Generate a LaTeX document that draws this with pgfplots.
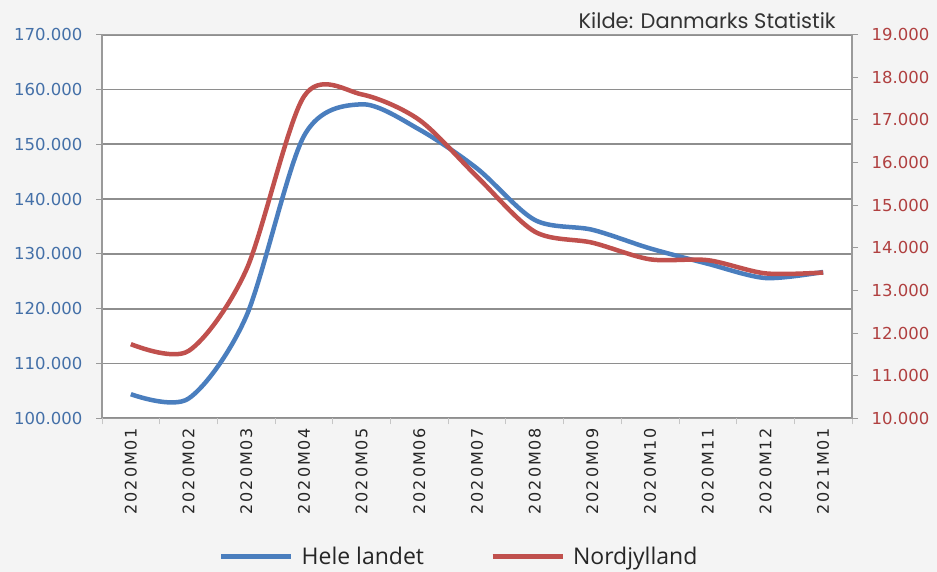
\documentclass[border=0pt]{standalone}
\usepackage{pgfplots}
\pgfplotsset{compat=1.18}
\usepackage{fontspec}
\setmainfont{DejaVu Sans}
\newfontfamily\kfont{Poppins}
\newfontfamily\lfont{Open Sans}
\newfontfamily\xfont[LetterSpace=12]{DejaVu Sans}
\definecolor{bgc}{HTML}{F4F4F4}
\definecolor{blueline}{HTML}{4A7EBE}
\definecolor{redline}{HTML}{C0504D}
\definecolor{bluetxt}{HTML}{4470A8}
\definecolor{redtxt}{HTML}{B04040}
\definecolor{gridc}{HTML}{8E8E8E}
\definecolor{axc}{HTML}{9A9A9A}
\newcommand{\tf}{\fontsize{16.5bp}{18bp}\selectfont}
\begin{document}
\begin{tikzpicture}
\path[use as bounding box, clip] (0,0) rectangle (937bp,572bp);
\fill[bgc] (0,0) rectangle (937bp,572bp);
\begin{axis}[
  at={(102bp,153.7bp)}, anchor=south west, scale only axis,
  width=750bp, height=383.6bp,
  xmin=-0.5, xmax=12.5, ymin=100, ymax=170,
  axis background/.style={fill=white},
  axis line style={draw=axc, line width=1.3bp},
  xtick={0,...,12},
  xticklabels={2020M01,2020M02,2020M03,2020M04,2020M05,2020M06,2020M07,2020M08,2020M09,2020M10,2020M11,2020M12,2021M01},
  xticklabel style={rotate=90, anchor=east, font=\xfont\fontsize{16bp}{18bp}\selectfont, text=black!85},
  x tick style={draw=none},
  extra x ticks={-0.5,0.5,...,12.5},
  extra x tick labels={},
  extra x tick style={grid=none, x tick style={draw=gray!45, line width=0.8bp}, major tick length=6bp},
  xtick pos=bottom,
  ytick={100,110,...,170},
  yticklabels={100.000,110.000,120.000,130.000,140.000,150.000,160.000,170.000},
  yticklabel style={font=\tf, text=bluetxt, xshift=-10bp},
  ytick pos=left,
  y tick style={draw=axc, line width=1bp},
  tick align=outside,
  major tick length=6bp,
  ymajorgrids,
  grid style={draw=gridc, line width=1.9bp},
  clip=false,
]
\addplot[blueline, line width=4.5bp, smooth, tension=0.5] coordinates {
(0,104.4) (1,103.6) (2,118.6) (3,151.5) (4,157.3) (5,152.7) (6,145.6)
(7,136.2) (8,134.4) (9,131.0) (10,128.2) (11,125.6) (12,126.7)};
\node[anchor=south east, inner sep=0pt, font=\kfont\fontsize{21bp}{23bp}\selectfont, text=black!80] at (rel axis cs:1,1) [xshift=-16bp, yshift=6bp] {Kilde: Danmarks Statistik};
\end{axis}
\begin{axis}[
  at={(102bp,153.7bp)}, anchor=south west, scale only axis,
  width=750bp, height=383.6bp,
  xmin=-0.5, xmax=12.5, ymin=10, ymax=19,
  axis x line=none,
  axis y line*=right,
  axis line style={draw=axc, line width=1.3bp},
  ytick={10,...,19},
  yticklabels={10.000,11.000,12.000,13.000,14.000,15.000,16.000,17.000,18.000,19.000},
  yticklabel style={font=\tf, text=redtxt, xshift=10bp},
  y tick style={draw=axc, line width=1bp},
  tick align=outside,
  major tick length=6bp,
  legend style={at={(0.48,-0.36)}, anchor=center, draw=none, fill=none,
    font=\lfont\fontsize{23bp}{25bp}\selectfont, text=black!85,
    legend columns=2, /tikz/every even column/.append style={column sep=58bp},
    nodes={inner xsep=8bp}},
  legend image code/.code={\draw[#1, line width=5bp] (0bp,0bp) -- (70bp,0bp);},
  clip=false,
]
\addlegendimage{blueline}
\addlegendentry{Hele landet}
\addplot[redline, line width=4.5bp, smooth, tension=0.5] coordinates {
(0,11.74) (1,11.58) (2,13.48) (3,17.55) (4,17.6) (5,17.0) (6,15.67)
(7,14.38) (8,14.12) (9,13.73) (10,13.71) (11,13.40) (12,13.42)};
\addlegendentry{Nordjylland}
\end{axis}
\end{tikzpicture}
\end{document}
